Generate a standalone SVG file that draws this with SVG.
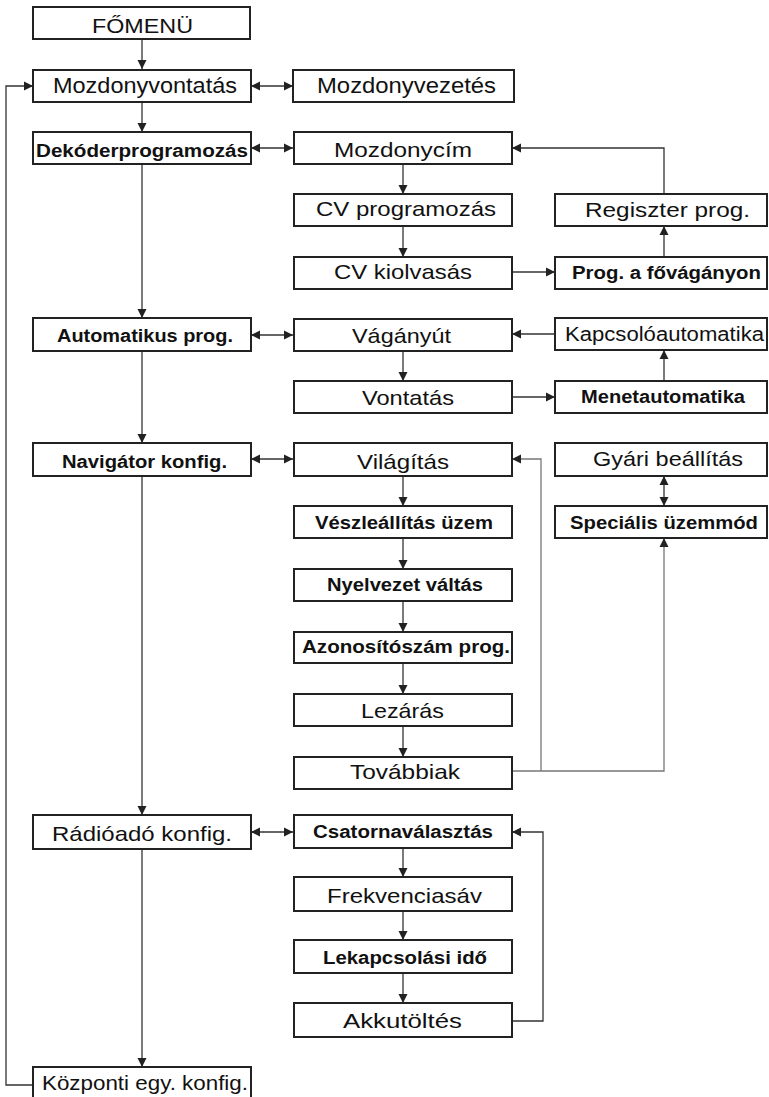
<svg xmlns="http://www.w3.org/2000/svg" width="769" height="1097" viewBox="0 0 769 1097">
<defs>
<marker id="ah" markerUnits="userSpaceOnUse" markerWidth="10" markerHeight="10" refX="9" refY="5" orient="auto-start-reverse" viewBox="0 0 10 10">
<path d="M0,0.5 L9,5 L0,9.5 z" fill="#222"/>
</marker>
</defs>
<style>
rect{fill:#fff;stroke:#222;stroke-width:2}
text{font-family:"Liberation Sans",Arial,sans-serif;fill:#111}
.r{font-size:21px}
.b{font-size:17.5px;font-weight:bold}
.c line,.c polyline{stroke:#333;stroke-width:1.3;fill:none}
.c .g{stroke:#777}
</style>
<rect width="769" height="1097" style="fill:#fff;stroke:none"/>
<g class="c" id="connectors">
<line x1="142" y1="39" x2="142" y2="69" marker-end="url(#ah)"/>
<line x1="142" y1="102" x2="142" y2="132" marker-end="url(#ah)"/>
<line x1="142" y1="164" x2="142" y2="318" marker-end="url(#ah)"/>
<line x1="142" y1="351" x2="142" y2="443" marker-end="url(#ah)"/>
<line x1="142" y1="476" x2="142" y2="815" marker-end="url(#ah)"/>
<line x1="142" y1="849" x2="142" y2="1067" marker-end="url(#ah)"/>
<polyline points="33,1085 6,1085 6,86 33,86" marker-end="url(#ah)"/>
<line x1="251" y1="86" x2="293" y2="86" marker-start="url(#ah)" marker-end="url(#ah)"/>
<line x1="251" y1="148" x2="293" y2="148" marker-start="url(#ah)" marker-end="url(#ah)"/>
<line x1="251" y1="335" x2="293" y2="335" marker-start="url(#ah)" marker-end="url(#ah)"/>
<line x1="251" y1="459" x2="293" y2="459" marker-start="url(#ah)" marker-end="url(#ah)"/>
<line x1="251" y1="832" x2="293" y2="832" marker-start="url(#ah)" marker-end="url(#ah)"/>
<line x1="403" y1="164" x2="403" y2="194" marker-end="url(#ah)"/>
<line x1="403" y1="226" x2="403" y2="257" marker-end="url(#ah)"/>
<line x1="403" y1="351" x2="403" y2="381" marker-end="url(#ah)"/>
<line x1="403" y1="476" x2="403" y2="506" marker-end="url(#ah)"/>
<line x1="403" y1="538" x2="403" y2="569" marker-end="url(#ah)"/>
<line x1="403" y1="601" x2="403" y2="632" marker-end="url(#ah)"/>
<line x1="403" y1="663" x2="403" y2="694" marker-end="url(#ah)"/>
<line x1="403" y1="726" x2="403" y2="757" marker-end="url(#ah)"/>
<line x1="403" y1="848" x2="403" y2="877" marker-end="url(#ah)"/>
<line x1="403" y1="911" x2="403" y2="940" marker-end="url(#ah)"/>
<line x1="403" y1="973" x2="403" y2="1003" marker-end="url(#ah)"/>
<polyline points="664,194 664,148 512,148" marker-end="url(#ah)"/>
<line x1="664" y1="257" x2="664" y2="226" marker-end="url(#ah)"/>
<line x1="512" y1="272" x2="555" y2="272" marker-end="url(#ah)"/>
<line x1="555" y1="334" x2="512" y2="334" marker-end="url(#ah)"/>
<line x1="664" y1="381" x2="664" y2="350" marker-end="url(#ah)"/>
<line x1="512" y1="397" x2="555" y2="397" marker-end="url(#ah)"/>
<line x1="664" y1="476" x2="664" y2="506" marker-start="url(#ah)" marker-end="url(#ah)"/>
<polyline class="g" points="512,771 664,771 664,538" marker-end="url(#ah)"/>
<polyline class="g" points="541,771 541,459 512,459" marker-end="url(#ah)"/>
<polyline points="512,1021 543,1021 543,832 512,832" marker-end="url(#ah)"/>
</g>
<g id="fomenu"><rect x="33" y="7" width="217" height="32"/><text class="r" x="92" y="33" textLength="101" lengthAdjust="spacingAndGlyphs">FŐMENÜ</text></g>
<g id="mozdonyvontatas"><rect x="33" y="70" width="218" height="32"/><text class="r" x="53" y="93" style="font-size:22px" textLength="184" lengthAdjust="spacingAndGlyphs">Mozdonyvontatás</text></g>
<g id="mozdonyvezetes"><rect x="293" y="70" width="221" height="32"/><text class="r" x="317" y="93" style="font-size:22px" textLength="179" lengthAdjust="spacingAndGlyphs">Mozdonyvezetés</text></g>
<g id="dekoder"><rect x="33" y="132" width="218" height="32"/><text class="b" x="36" y="157" style="font-size:18px" textLength="212" lengthAdjust="spacingAndGlyphs">Dekóderprogramozás</text></g>
<g id="mozdonycim"><rect x="294" y="132" width="218" height="32"/><text class="r" x="334" y="157" textLength="138" lengthAdjust="spacingAndGlyphs">Mozdonycím</text></g>
<g id="cvprog"><rect x="294" y="194" width="218" height="32"/><text class="r" x="316" y="216" textLength="180" lengthAdjust="spacingAndGlyphs">CV programozás</text></g>
<g id="cvkiol"><rect x="294" y="257" width="218" height="32"/><text class="r" x="334" y="279" textLength="138" lengthAdjust="spacingAndGlyphs">CV kiolvasás</text></g>
<g id="regiszter"><rect x="555" y="194" width="212" height="32"/><text class="r" x="585" y="217" textLength="165" lengthAdjust="spacingAndGlyphs">Regiszter prog.</text></g>
<g id="progfovagany"><rect x="555" y="257" width="212" height="32"/><text class="b" x="572" y="279" textLength="189" lengthAdjust="spacingAndGlyphs">Prog. a fővágányon</text></g>
<g id="automatikus"><rect x="33" y="318" width="218" height="33"/><text class="b" x="57" y="342" textLength="176" lengthAdjust="spacingAndGlyphs">Automatikus prog.</text></g>
<g id="vaganyut"><rect x="294" y="319" width="218" height="32"/><text class="r" x="352" y="343" textLength="99" lengthAdjust="spacingAndGlyphs">Vágányút</text></g>
<g id="kapcsolo"><rect x="555" y="318" width="212" height="32"/><text class="r" x="565" y="341" style="font-size:20px" textLength="199" lengthAdjust="spacingAndGlyphs">Kapcsolóautomatika</text></g>
<g id="vontatas"><rect x="294" y="381" width="218" height="32"/><text class="r" x="362" y="405" textLength="92" lengthAdjust="spacingAndGlyphs">Vontatás</text></g>
<g id="menet"><rect x="555" y="381" width="212" height="32"/><text class="b" x="581" y="403" textLength="164" lengthAdjust="spacingAndGlyphs">Menetautomatika</text></g>
<g id="navigator"><rect x="33" y="443" width="218" height="33"/><text class="b" x="62" y="468" textLength="165" lengthAdjust="spacingAndGlyphs">Navigátor konfig.</text></g>
<g id="vilagitas"><rect x="294" y="443" width="218" height="33"/><text class="r" x="357" y="469" textLength="92" lengthAdjust="spacingAndGlyphs">Világítás</text></g>
<g id="gyari"><rect x="555" y="443" width="212" height="33"/><text class="r" x="593" y="466" textLength="150" lengthAdjust="spacingAndGlyphs">Gyári beállítás</text></g>
<g id="veszle"><rect x="294" y="506" width="218" height="32"/><text class="b" x="315" y="529" textLength="178" lengthAdjust="spacingAndGlyphs">Vészleállítás üzem</text></g>
<g id="specialis"><rect x="555" y="506" width="212" height="32"/><text class="b" x="570" y="529" textLength="188" lengthAdjust="spacingAndGlyphs">Speciális üzemmód</text></g>
<g id="nyelvezet"><rect x="294" y="569" width="218" height="32"/><text class="b" x="327" y="591" textLength="156" lengthAdjust="spacingAndGlyphs">Nyelvezet váltás</text></g>
<g id="azonosito"><rect x="294" y="632" width="218" height="31"/><text class="b" x="302" y="653" textLength="208" lengthAdjust="spacingAndGlyphs">Azonosítószám prog.</text></g>
<g id="lezaras"><rect x="294" y="694" width="218" height="32"/><text class="r" x="361" y="718" textLength="83" lengthAdjust="spacingAndGlyphs">Lezárás</text></g>
<g id="tovabbiak"><rect x="294" y="757" width="218" height="32"/><text class="r" x="350" y="779" textLength="110" lengthAdjust="spacingAndGlyphs">Továbbiak</text></g>
<g id="radio"><rect x="33" y="815" width="218" height="34"/><text class="r" x="52" y="841" textLength="180" lengthAdjust="spacingAndGlyphs">Rádióadó konfig.</text></g>
<g id="csatorna"><rect x="294" y="815" width="218" height="33"/><text class="b" x="313" y="838" textLength="180" lengthAdjust="spacingAndGlyphs">Csatornaválasztás</text></g>
<g id="frekvencia"><rect x="294" y="877" width="218" height="34"/><text class="r" x="327" y="903" textLength="155" lengthAdjust="spacingAndGlyphs">Frekvenciasáv</text></g>
<g id="lekapcsolasi"><rect x="294" y="940" width="218" height="33"/><text class="b" x="323" y="964" textLength="164" lengthAdjust="spacingAndGlyphs">Lekapcsolási idő</text></g>
<g id="akku"><rect x="294" y="1003" width="218" height="34"/><text class="r" x="343" y="1028" textLength="119" lengthAdjust="spacingAndGlyphs">Akkutöltés</text></g>
<g id="kozponti"><rect x="33" y="1067" width="218" height="34"/><text class="r" x="42" y="1090" textLength="206" lengthAdjust="spacingAndGlyphs">Központi egy. konfig.</text></g>
</svg>
